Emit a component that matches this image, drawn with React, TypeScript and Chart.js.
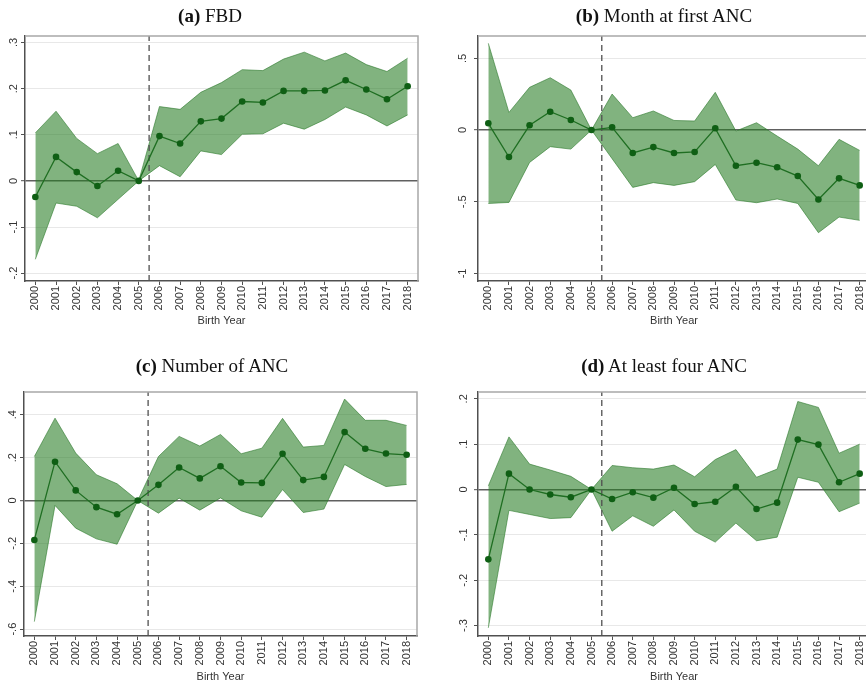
import React, { useEffect, useRef } from "react";
import { Chart, registerables } from "chart.js";

Chart.register(...registerables);

// ---------- data ----------
const years = [2000, 2001, 2002, 2003, 2004, 2005, 2006, 2007, 2008, 2009, 2010, 2011, 2012, 2013, 2014, 2015, 2016, 2017, 2018];
const cutoffYear = 2005.5;

const fbdCoef = [-0.035, 0.052, 0.019, -0.011, 0.022, 0, 0.097, 0.081, 0.129, 0.135, 0.172, 0.170, 0.195, 0.195, 0.196, 0.218, 0.198, 0.177, 0.205];
const fbdUpper = [0.104, 0.151, 0.092, 0.059, 0.081, 0, 0.161, 0.155, 0.192, 0.213, 0.241, 0.239, 0.264, 0.279, 0.260, 0.277, 0.252, 0.237, 0.266];
const fbdLower = [-0.170, -0.048, -0.055, -0.080, -0.040, 0, 0.033, 0.009, 0.065, 0.057, 0.101, 0.102, 0.125, 0.112, 0.133, 0.160, 0.143, 0.119, 0.143];
const fbdTicks = [-0.2, -0.1, 0, 0.1, 0.2, 0.3];
const fbdTickLabels = ["-.2", "-.1", "0", ".1", ".2", ".3"];

const monthCoef = [0.047, -0.188, 0.033, 0.128, 0.070, 0, 0.019, -0.160, -0.119, -0.160, -0.153, 0.012, -0.249, -0.228, -0.260, -0.321, -0.484, -0.337, -0.386];
const monthUpper = [0.605, 0.123, 0.298, 0.365, 0.279, 0, 0.251, 0.086, 0.133, 0.067, 0.063, 0.263, -0.007, 0.051, -0.042, -0.133, -0.249, -0.065, -0.142];
const monthLower = [-0.512, -0.505, -0.226, -0.116, -0.133, 0, -0.200, -0.400, -0.367, -0.386, -0.360, -0.240, -0.488, -0.507, -0.481, -0.512, -0.716, -0.607, -0.630];
const monthTicks = [-1, -0.5, 0, 0.5];
const monthTickLabels = ["-1", "-.5", "0", ".5"];

const numCoef = [-0.184, 0.181, 0.047, -0.031, -0.064, 0, 0.073, 0.154, 0.103, 0.160, 0.084, 0.082, 0.218, 0.095, 0.110, 0.319, 0.241, 0.219, 0.213];
const numUpper = [0.205, 0.384, 0.221, 0.120, 0.078, 0, 0.205, 0.299, 0.254, 0.308, 0.218, 0.244, 0.383, 0.249, 0.257, 0.473, 0.374, 0.374, 0.350];
const numLower = [-0.565, -0.023, -0.129, -0.179, -0.204, 0, -0.059, 0.011, -0.045, 0.012, -0.048, -0.078, 0.051, -0.056, -0.040, 0.168, 0.112, 0.065, 0.075];
const numTicks = [-0.6, -0.4, -0.2, 0, 0.2, 0.4];
const numTickLabels = ["-.6", "-.4", "-.2", "0", ".2", ".4"];

const fourCoef = [-0.154, 0.035, 0, -0.011, -0.017, 0, -0.021, -0.006, -0.018, 0.004, -0.032, -0.027, 0.006, -0.043, -0.029, 0.110, 0.099, 0.016, 0.035];
const fourUpper = [0.008, 0.116, 0.056, 0.043, 0.029, 0, 0.053, 0.048, 0.045, 0.054, 0.028, 0.066, 0.088, 0.027, 0.045, 0.194, 0.181, 0.080, 0.100];
const fourLower = [-0.305, -0.046, -0.055, -0.064, -0.062, 0, -0.092, -0.058, -0.081, -0.045, -0.092, -0.116, -0.074, -0.113, -0.105, 0.027, 0.016, -0.049, -0.030];
const fourTicks = [-0.3, -0.2, -0.1, 0, 0.1, 0.2];
const fourTickLabels = ["-.3", "-.2", "-.1", "0", ".1", ".2"];

// ---------- styles ----------
const DARK = "#0f5f14";
const LINE = "#1f6e22";
const FILL = "rgba(38,124,34,0.58)";
const EDGE = "rgba(45,120,45,0.75)";
const AXIS = "#505050";
const GRID = "#e8e8e8";
const TEXT = "#333333";
const SANS = "'Liberation Sans', Arial, sans-serif";
const FS = 11;

const framePlugin = {
  id: "frame",
  afterDraw(chart: any, _args: any, opts: any) {
    const { ctx, chartArea } = chart;
    const { left, right, top, bottom } = chartArea;
    ctx.save();
    ctx.strokeStyle = "#a8a8a8";
    ctx.lineWidth = 1.5;
    ctx.beginPath();
    ctx.moveTo(left, top);
    ctx.lineTo(right, top);
    ctx.lineTo(right, bottom);
    ctx.stroke();
    const ys = chart.scales.y;
    ctx.fillStyle = TEXT;
    ctx.font = FS + "px " + SANS;
    ctx.textAlign = "center";
    ctx.textBaseline = "middle";
    ys.ticks.forEach((t: any, i: number) => {
      const py = ys.getPixelForValue(t.value);
      ctx.save();
      ctx.translate(left - opts.offset, py);
      ctx.rotate(-Math.PI / 2);
      ctx.fillText(opts.labels[i], 0, 0);
      ctx.restore();
    });
    ctx.restore();
  },
};

type PanelProps = {
  title: string;
  tag: string;
  coef: number[];
  upper: number[];
  lower: number[];
  yMin: number;
  yMax: number;
  ticks: number[];
  tickLabels: string[];
  box: { left: number; top: number; width: number; height: number };
  pad: { top: number; right: number };
  yWidth: number;
  xHeight: number;
  labelOffset: number;
  titleBottomPad: number;
  titleCenter: { x: number; y: number };
};

const toPts = (vals: number[]) => years.map((y, i) => ({ x: y, y: vals[i] }));

function Panel(p: PanelProps) {
  const ref = useRef<HTMLCanvasElement | null>(null);
  useEffect(() => {
    if (!ref.current) return;
    const chart = new Chart(ref.current, {
      type: "line",
      data: {
        datasets: [
          {
            data: toPts(p.coef),
            borderColor: LINE,
            borderWidth: 1.3,
            pointRadius: 3.3,
            pointBackgroundColor: DARK,
            pointBorderWidth: 0,
            fill: false,
            tension: 0,
            order: 0,
          },
          {
            data: [
              { x: cutoffYear, y: p.yMin },
              { x: cutoffYear, y: p.yMax },
            ],
            borderColor: AXIS,
            borderDash: [6, 4],
            borderWidth: 1.3,
            pointRadius: 0,
            fill: false,
            order: 1,
          },
          {
            data: toPts(p.upper),
            borderColor: EDGE,
            borderWidth: 0.8,
            pointRadius: 0,
            backgroundColor: FILL,
            fill: "+1",
            tension: 0,
            order: 2,
          },
          {
            data: toPts(p.lower),
            borderColor: EDGE,
            borderWidth: 0.8,
            pointRadius: 0,
            fill: false,
            tension: 0,
            order: 3,
          },
        ],
      },
      options: {
        animation: false,
        responsive: true,
        maintainAspectRatio: false,
        events: [],
        layout: { padding: { left: 0, top: p.pad.top, right: p.pad.right, bottom: 0 } },
        plugins: {
          legend: { display: false },
          tooltip: { enabled: false },
          frame: { offset: p.labelOffset, labels: p.tickLabels },
        } as any,
        scales: {
          x: {
            type: "linear",
            min: 1999.5,
            max: 2018.5,
            afterBuildTicks: (s: any) => {
              s.ticks = years.map((v) => ({ value: v }));
            },
            afterFit: (s: any) => {
              s.height = p.xHeight;
            },
            grid: {
              drawOnChartArea: false,
              drawTicks: true,
              tickLength: 4,
              tickColor: AXIS,
              tickWidth: 1,
            },
            border: { display: true, color: AXIS, width: 1.5 },
            ticks: {
              minRotation: 90,
              maxRotation: 90,
              autoSkip: false,
              padding: 1,
              color: TEXT,
              font: { family: SANS, size: FS },
              callback: (v: any) => String(v),
            },
            title: {
              display: true,
              text: "Birth Year",
              color: TEXT,
              font: { family: SANS, size: FS },
              padding: { top: 0, bottom: p.titleBottomPad },
            },
          },
          y: {
            type: "linear",
            min: p.yMin,
            max: p.yMax,
            afterBuildTicks: (s: any) => {
              s.ticks = p.ticks.map((v) => ({ value: v }));
            },
            afterFit: (s: any) => {
              s.width = p.yWidth;
            },
            grid: {
              color: (c: any) => (c.tick && Math.abs(c.tick.value) < 1e-9 ? "#606060" : GRID),
              lineWidth: (c: any) => (c.tick && Math.abs(c.tick.value) < 1e-9 ? 1.4 : 1),
              tickColor: AXIS,
              tickLength: 4,
              tickWidth: 1,
            },
            border: { display: true, color: AXIS, width: 1.5 },
            ticks: { display: false },
          },
        },
      },
      plugins: [framePlugin],
    } as any);
    return () => chart.destroy();
  }, []);
  return (
    <>
      <div
        style={{
          position: "absolute",
          left: p.box.left,
          top: p.box.top,
          width: p.box.width,
          height: p.box.height,
        }}
      >
        <canvas ref={ref} />
      </div>
      <div
        style={{
          position: "absolute",
          left: p.titleCenter.x - 200,
          top: p.titleCenter.y - 11,
          width: 400,
          height: 22,
          lineHeight: "22px",
          textAlign: "center",
          fontFamily: "'Liberation Serif', 'Times New Roman', serif",
          fontSize: 19,
          color: "#111",
          whiteSpace: "nowrap",
        }}
      >
        <b>{p.tag}</b> {p.title}
      </div>
    </>
  );
}

export default function App() {
  return (
    <div
      style={{
        position: "fixed",
        left: 0,
        top: 0,
        width: 866,
        height: 685,
        overflow: "hidden",
        background: "#fff",
      }}
    >
      <Panel
        tag="(a)"
        title="FBD"
        coef={fbdCoef}
        upper={fbdUpper}
        lower={fbdLower}
        yMin={-0.217}
        yMax={0.314}
        ticks={fbdTicks}
        tickLabels={fbdTickLabels}
        box={{ left: 0, top: 0, width: 433, height: 330 }}
        pad={{ top: 36, right: 15 }}
        yWidth={25}
        xHeight={49}
        labelOffset={11}
        titleBottomPad={2.4}
        titleCenter={{ x: 210, y: 15.5 }}
      />
      <Panel
        tag="(b)"
        title="Month at first ANC"
        coef={monthCoef}
        upper={monthUpper}
        lower={monthLower}
        yMin={-1.053}
        yMax={0.656}
        ticks={monthTicks}
        tickLabels={monthTickLabels}
        box={{ left: 445, top: 0, width: 440, height: 330 }}
        pad={{ top: 36, right: 15 }}
        yWidth={33}
        xHeight={49}
        labelOffset={15}
        titleBottomPad={2.4}
        titleCenter={{ x: 664, y: 15.5 }}
      />
      <Panel
        tag="(c)"
        title="Number of ANC"
        coef={numCoef}
        upper={numUpper}
        lower={numLower}
        yMin={-0.632}
        yMax={0.506}
        ticks={numTicks}
        tickLabels={numTickLabels}
        box={{ left: 0, top: 330, width: 433, height: 355 }}
        pad={{ top: 62, right: 16 }}
        yWidth={24}
        xHeight={49}
        labelOffset={11.5}
        titleBottomPad={1.4}
        titleCenter={{ x: 212, y: 366 }}
      />
      <Panel
        tag="(d)"
        title="At least four ANC"
        coef={fourCoef}
        upper={fourUpper}
        lower={fourLower}
        yMin={-0.323}
        yMax={0.215}
        ticks={fourTicks}
        tickLabels={fourTickLabels}
        box={{ left: 445, top: 330, width: 440, height: 355 }}
        pad={{ top: 62, right: 15 }}
        yWidth={33}
        xHeight={49}
        labelOffset={14}
        titleBottomPad={1.4}
        titleCenter={{ x: 664, y: 366 }}
      />
    </div>
  );
}
